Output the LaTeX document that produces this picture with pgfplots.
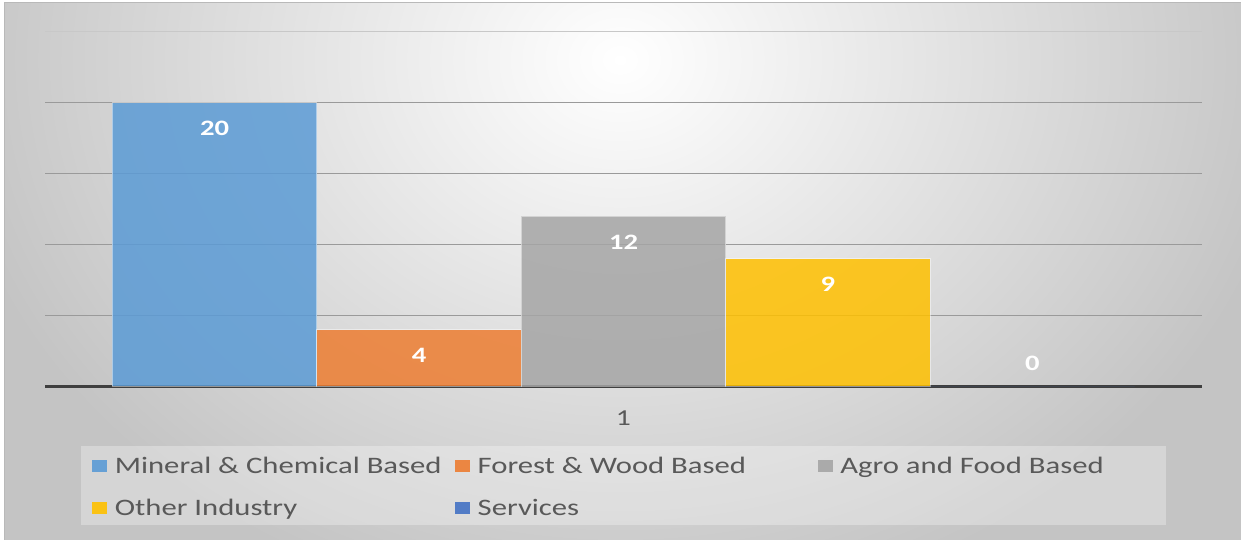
\documentclass[border=0pt]{standalone}
\usepackage{fontspec}
\setmainfont{Carlito}[FakeStretch=1.3]
\usepackage{pgfplots}
\pgfplotsset{compat=1.18}
\definecolor{blueE}{HTML}{5B9BD5}
\definecolor{orangeE}{HTML}{ED7D31}
\definecolor{grayE}{HTML}{A5A5A5}
\definecolor{yellowE}{HTML}{FFC000}
\definecolor{servE}{HTML}{4472C4}
\definecolor{txt}{HTML}{595959}
\definecolor{gridc}{HTML}{9A9A9A}
\definecolor{gridtop}{HTML}{C8C8C8}
\definecolor{axc}{HTML}{3F3F3F}
\definecolor{bgout}{HTML}{C4C4C4}
\begin{document}
\begin{tikzpicture}
\useasboundingbox (0,0) rectangle (620.5pt,270pt);
\fill[white] (0,0) rectangle (620.5pt,270pt);
\begin{scope}
\clip (2pt,0pt) rectangle (620.5pt,268.5pt);
\shade[inner color=white, outer color=bgout] (-30pt,-40pt) rectangle (650pt,520pt);
\end{scope}
\draw[gray!55, line width=0.5pt] (2pt,-1pt) -- (2pt,268.5pt) -- (621pt,268.5pt);
\begin{axis}[
  at={(22.5pt,76.75pt)}, anchor=south west,
  scale only axis, width=578.5pt, height=177.4pt,
  xmin=0.17, xmax=5.83, ymin=0, ymax=25,
  /pgf/number format/assume math mode=true,
  axis x line*=bottom, axis y line*=left,
  axis line style={-},
  x axis line style={draw=axc, line width=1.5pt},
  y axis line style={draw=none},
  ytick={5,10,15,20}, yticklabels={},
  extra y ticks={25}, extra y tick labels={},
  extra y tick style={grid style={draw=gridtop, line width=0.7pt}},
  ymajorgrids, grid style={draw=gridc, line width=0.7pt},
  major tick length=0pt,
  xtick={3}, xticklabels={1},
  xticklabel style={anchor=center, font=\fontsize{11.4}{13}\selectfont, text=txt},
  xticklabel shift=15.7pt,
  clip=false,
  mybar/.style={ybar, bar width=1, bar shift=0pt, fill=#1, fill opacity=0.85,
    draw=white, draw opacity=0.45, line width=0.6pt,
    nodes near coords,
    every node near coord/.append style={anchor=center, yshift=-13pt, text=white,
      text opacity=1, font=\bfseries\fontsize{11}{13}\selectfont},
    legend image code/.code={\fill[draw=none, fill=#1, fill opacity=0.9] (0pt,0.75pt) rectangle (7.5pt,6.75pt); \path[draw=none, fill=none] (0pt,3pt) -- (11.25pt,3pt);}},
  legend columns=3,
  legend style={at={(0.0311,-0.1677)}, anchor=north west, draw=none,
    fill=white, fill opacity=0.3, text opacity=1,
    inner xsep=5.5pt, inner ysep=4.85pt, row sep=12.2pt,
    nodes={inner sep=0pt, text height=8.8pt, text depth=0pt, anchor=base west},
    /tikz/every even column/.style={column sep=0pt},
    /tikz/every odd column/.style={column sep=0pt},
    font=\fontsize{11.8}{14}\selectfont, text=txt},
  legend cell align=left,
]
\addplot[mybar=blueE] coordinates {(1,20)};
\addlegendentry{\makebox[170.15pt][l]{Mineral \& Chemical Based}}
\addplot[mybar=orangeE] coordinates {(2,4)};
\addlegendentry{\makebox[170.15pt][l]{Forest \& Wood Based}}
\addplot[mybar=grayE] coordinates {(3,12)};
\addlegendentry{\makebox[157.5pt][l]{Agro and Food Based}}
\addplot[mybar=yellowE] coordinates {(4,9)};
\addlegendentry{\makebox[170.15pt][l]{Other Industry}}
\addplot[mybar=servE, draw=none, every node near coord/.append style={yshift=24.75pt}] coordinates {(5,0)};
\addlegendentry{\makebox[170.15pt][l]{Services}}
\end{axis}
\end{tikzpicture}
\end{document}
